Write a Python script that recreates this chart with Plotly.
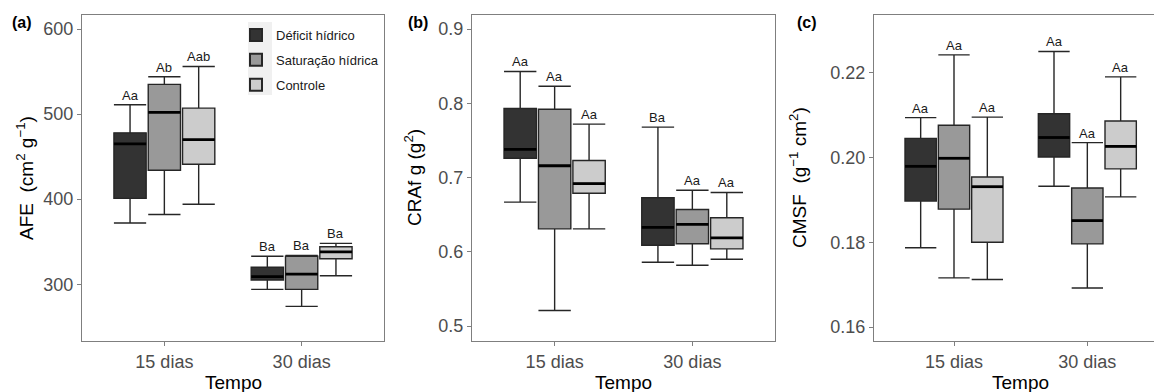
import plotly.graph_objects as go

W, H = 1154, 392

# ---------------- data ----------------
tempos = ["15 dias", "30 dias"]
grupos = ["Déficit hídrico", "Saturação hídrica", "Controle"]

# Panel (a) AFE
afe_low = {"Déficit hídrico": [372, 294], "Saturação hídrica": [382, 274], "Controle": [394, 310]}
afe_q1 = {"Déficit hídrico": [401, 305], "Saturação hídrica": [434, 294], "Controle": [441, 330]}
afe_med = {"Déficit hídrico": [465, 309], "Saturação hídrica": [502, 312], "Controle": [470, 338]}
afe_q3 = {"Déficit hídrico": [478, 320], "Saturação hídrica": [535, 333], "Controle": [507, 344]}
afe_up = {"Déficit hídrico": [511, 333], "Saturação hídrica": [544, 334], "Controle": [556, 348]}
afe_lab = {"Déficit hídrico": ["Aa", "Ba"], "Saturação hídrica": ["Ab", "Ba"], "Controle": ["Aab", "Ba"]}

# Panel (b) CRAf
cra_low = {"Déficit hídrico": [0.667, 0.586], "Saturação hídrica": [0.521, 0.582], "Controle": [0.631, 0.590]}
cra_q1 = {"Déficit hídrico": [0.726, 0.609], "Saturação hídrica": [0.631, 0.611], "Controle": [0.679, 0.604]}
cra_med = {"Déficit hídrico": [0.738, 0.633], "Saturação hídrica": [0.716, 0.637], "Controle": [0.692, 0.619]}
cra_q3 = {"Déficit hídrico": [0.793, 0.673], "Saturação hídrica": [0.792, 0.657], "Controle": [0.723, 0.646]}
cra_up = {"Déficit hídrico": [0.843, 0.768], "Saturação hídrica": [0.823, 0.683], "Controle": [0.772, 0.680]}
cra_lab = {"Déficit hídrico": ["Aa", "Ba"], "Saturação hídrica": ["Aa", "Aa"], "Controle": ["Aa", "Aa"]}

# Panel (c) CMSF
cms_low = {"Déficit hídrico": [0.1787, 0.1932], "Saturação hídrica": [0.1716, 0.1692], "Controle": [0.1712, 0.1907]}
cms_q1 = {"Déficit hídrico": [0.1897, 0.2001], "Saturação hídrica": [0.1878, 0.1796], "Controle": [0.1800, 0.1973]}
cms_med = {"Déficit hídrico": [0.1979, 0.2047], "Saturação hídrica": [0.1998, 0.1851], "Controle": [0.1931, 0.2026]}
cms_q3 = {"Déficit hídrico": [0.2045, 0.2103], "Saturação hídrica": [0.2076, 0.1928], "Controle": [0.1954, 0.2086]}
cms_up = {"Déficit hídrico": [0.2094, 0.2250], "Saturação hídrica": [0.2242, 0.2035], "Controle": [0.2095, 0.2190]}
cms_lab = {"Déficit hídrico": ["Aa", "Aa"], "Saturação hídrica": ["Aa", "Aa"], "Controle": ["Aa", "Aa"]}

yticks_a = [300, 400, 500, 600]
yticks_b = [0.5, 0.6, 0.7, 0.8, 0.9]
yticks_c = [0.16, 0.18, 0.20, 0.22]

# ---------------- style ----------------
fills = {"Déficit hídrico": "#333333", "Saturação hídrica": "#999999", "Controle": "#CCCCCC"}
offsets = {"Déficit hídrico": -0.25, "Saturação hídrica": 0.0, "Controle": 0.25}
BOXW = 0.235
LINE = "#262626"
FONT = "Liberation Sans, Arial, sans-serif"

fig = go.Figure()

panels = [
    ("x", "y", afe_low, afe_q1, afe_med, afe_q3, afe_up, afe_lab),
    ("x2", "y2", cra_low, cra_q1, cra_med, cra_q3, cra_up, cra_lab),
    ("x3", "y3", cms_low, cms_q1, cms_med, cms_q3, cms_up, cms_lab),
]

annotations = []
for pi, (xa, ya, low, q1, med, q3, up, lab) in enumerate(panels):
    for g in grupos:
        xs = [i + 1 + offsets[g] for i in range(len(tempos))]
        fig.add_trace(go.Box(
            x=xs, q1=q1[g], median=med[g], q3=q3[g],
            lowerfence=low[g], upperfence=up[g],
            width=BOXW, whiskerwidth=1,
            fillcolor=fills[g], line=dict(color=LINE, width=1.4),
            name=g, legendgroup=g, showlegend=(pi == 0),
            boxpoints=False, xaxis=xa, yaxis=ya, hoverinfo="skip",
        ))
        # thicker median line
        mx, my = [], []
        for x0, m in zip(xs, med[g]):
            mx += [x0 - BOXW / 2, x0 + BOXW / 2, None]
            my += [m, m, None]
        fig.add_trace(go.Scatter(
            x=mx, y=my, mode="lines", line=dict(color="#000000", width=2.8),
            showlegend=False, xaxis=xa, yaxis=ya, hoverinfo="skip",
        ))
        for x0, u, t in zip(xs, up[g], lab[g]):
            annotations.append(dict(
                x=x0, y=u, xref=xa, yref=ya, text=t, showarrow=False,
                yanchor="bottom", yshift=0,
                font=dict(family=FONT, size=13, color="#1a1a1a"),
            ))

def px_x(p):
    return p / W

def px_y(p):
    return 1 - p / H

ydom = [px_y(341), px_y(15)]
axis_common = dict(
    showgrid=False, zeroline=False, showline=True, linecolor="#7F7F7F", linewidth=1,
    ticks="outside", ticklen=4, tickcolor="#7F7F7F", tickwidth=1,
    tickfont=dict(family=FONT, size=18, color="#4D4D4D"),
)
xcommon = dict(axis_common, tickvals=[1, 2], ticktext=tempos)

fig.update_layout(
    width=W, height=H,
    margin=dict(l=0, r=0, t=0, b=0),
    paper_bgcolor="white", plot_bgcolor="white",
    boxmode="overlay",
    showlegend=True,
    xaxis=dict(xcommon, domain=[px_x(82), px_x(384)], range=[0.4, 2.6], mirror=True, anchor="y"),
    yaxis=dict(axis_common, domain=ydom, range=[233.3, 616.5], tickvals=yticks_a, mirror=True, anchor="x"),
    xaxis2=dict(xcommon, domain=[px_x(472), px_x(775)], range=[0.4, 2.6], mirror=True, anchor="y2"),
    yaxis2=dict(axis_common, domain=ydom, range=[0.480, 0.919], tickvals=yticks_b,
                tickformat=".1f", mirror=True, anchor="x2"),
    xaxis3=dict(xcommon, domain=[px_x(874), 1.0], range=[0.4, 2.5], mirror=True, anchor="y3"),
    yaxis3=dict(axis_common, domain=ydom, range=[0.1567, 0.2336], tickvals=yticks_c,
                tickformat=".2f", mirror=False, anchor="x3"),
    legend=dict(
        x=px_x(236), y=px_y(20), xanchor="left", yanchor="top",
        bgcolor="rgba(0,0,0,0)", borderwidth=0,
        font=dict(family=FONT, size=13, color="#1a1a1a"),
        traceorder="grouped", tracegroupgap=5, itemsizing="constant",
    ),
    shapes=[dict(type="rect", xref="paper", yref="paper",
                 x0=px_x(248), x1=px_x(272), y0=px_y(95), y1=px_y(22),
                 fillcolor="#F0F0F0", line=dict(width=0), layer="below")],
)

# axis titles and panel labels
titles = [
    (25, 178, "AFE  (cm<sup>2</sup> g<sup>−1</sup>)", -90),
    (413, 178, "CRAf g (g<sup>2</sup>)", -90),
    (798, 178, "CMSF  (g<sup>−1</sup> cm<sup>2</sup>)", -90),
    (233, 382, "Tempo", 0),
    (623, 382, "Tempo", 0),
    (1020, 382, "Tempo", 0),
]
for xp, yp, t, ang in titles:
    annotations.append(dict(
        x=px_x(xp), y=px_y(yp), xref="paper", yref="paper", text=t, showarrow=False,
        textangle=ang, xanchor="center", yanchor="middle",
        font=dict(family=FONT, size=19, color="#000000"),
    ))
for xp, t in [(22, "(a)"), (418, "(b)"), (807, "(c)")]:
    annotations.append(dict(
        x=px_x(xp), y=px_y(23), xref="paper", yref="paper", text="<b>" + t + "</b>",
        showarrow=False, xanchor="center", yanchor="middle",
        font=dict(family=FONT, size=16, color="#000000"),
    ))
fig.update_layout(annotations=annotations)

fig.write_html("out.html")
